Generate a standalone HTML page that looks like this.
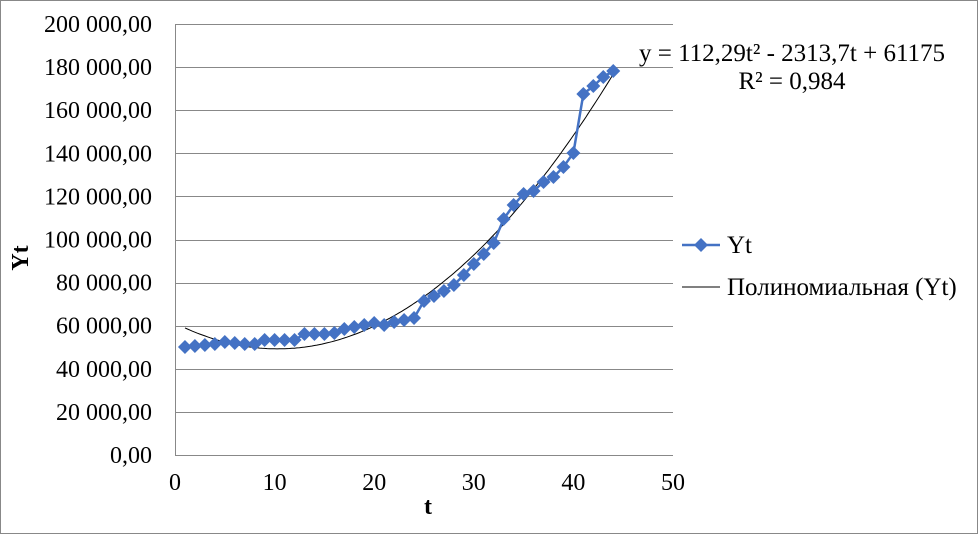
<!DOCTYPE html>
<html><head><meta charset="utf-8"><style>
html,body{margin:0;padding:0;background:#fff}
svg{display:block}
text{font-family:"Liberation Serif",serif;fill:#000}
</style></head><body>
<svg id="s" width="978" height="534" viewBox="0 0 978 534" xmlns="http://www.w3.org/2000/svg">
<rect x="0.5" y="0.5" width="977" height="533" fill="#fff" stroke="#888"/>
<g id="grid" stroke="#888" stroke-width="1"></g>
<line x1="175.5" y1="24" x2="175.5" y2="455" stroke="#888"/>
<g id="ylab" font-size="24" text-anchor="end"></g>
<g id="xlab" font-size="24" text-anchor="middle"></g>
<text x="28" y="258" font-size="24" font-weight="bold" text-anchor="middle" transform="rotate(-90 28 258)">Yt</text>
<text x="428" y="514" font-size="24" font-weight="bold" text-anchor="middle">t</text>
<path id="trend" fill="none" stroke="#000" stroke-width="1"/>
<polyline id="ser" fill="none" stroke="#4472C4" stroke-width="2.5"/>
<g id="mk" fill="#4472C4"></g>
<text x="792" y="61" font-size="25" text-anchor="middle">y = 112,29t² - 2313,7t + 61175</text>
<text x="792" y="89" font-size="25" text-anchor="middle">R² = 0,984</text>
<line x1="682" y1="245" x2="720" y2="245" stroke="#4472C4" stroke-width="2.5"/>
<path d="M701 238 L708 245 L701 252 L694 245Z" fill="#4472C4"/>
<text x="727" y="253" font-size="25">Yt</text>
<line x1="682" y1="287" x2="720" y2="287" stroke="#000" stroke-width="1"/>
<text x="727" y="295" font-size="25">Полиномиальная (Yt)</text>
</svg>
<script>
var ns="http://www.w3.org/2000/svg";
function el(p,t,a,txt){var e=document.createElementNS(ns,t);for(var k in a)e.setAttribute(k,a[k]);if(txt!=null)e.textContent=txt;document.getElementById(p).appendChild(e);}
var y0=455,step=43.1;
var labs=["0,00","20 000,00","40 000,00","60 000,00","80 000,00","100 000,00","120 000,00","140 000,00","160 000,00","180 000,00","200 000,00"];
for(var i=0;i<=10;i++){var y=y0-i*step;el("grid","line",{x1:175,x2:673,y1:Math.round(y)+0.5,y2:Math.round(y)+0.5});el("ylab","text",{x:152,y:y+8},labs[i]);}
for(var i=0;i<=5;i++){el("xlab","text",{x:175+i*99.6,y:490},String(i*10));}
function X(t){return 175+t*9.96}
function Y(v){return y0-v/20000*step}
var py=[347,346,345,344,342,343,344,344,340,340,340,340,334,334,334,333,329,327,325,323,325,322,320,318,301,296,291,285,275,264,254,243,219,205,194,191,182,177,167,153,94,86,77,71];
var pts=[];
for(var t=1;t<=44;t++){var x=X(t),y=py[t-1];pts.push(x+","+y);el("mk","path",{d:"M"+x+" "+(y-7)+" L"+(x+7)+" "+y+" L"+x+" "+(y+7)+" L"+(x-7)+" "+y+"Z"});}
document.getElementById("ser").setAttribute("points",pts.join(" "));
var d="";for(var t=1;t<=44;t+=0.25){var v=112.29*t*t-2313.7*t+61175;d+=(d?"L":"M")+X(t).toFixed(1)+" "+Y(v).toFixed(1);}
document.getElementById("trend").setAttribute("d",d);
</script>
</body></html>
